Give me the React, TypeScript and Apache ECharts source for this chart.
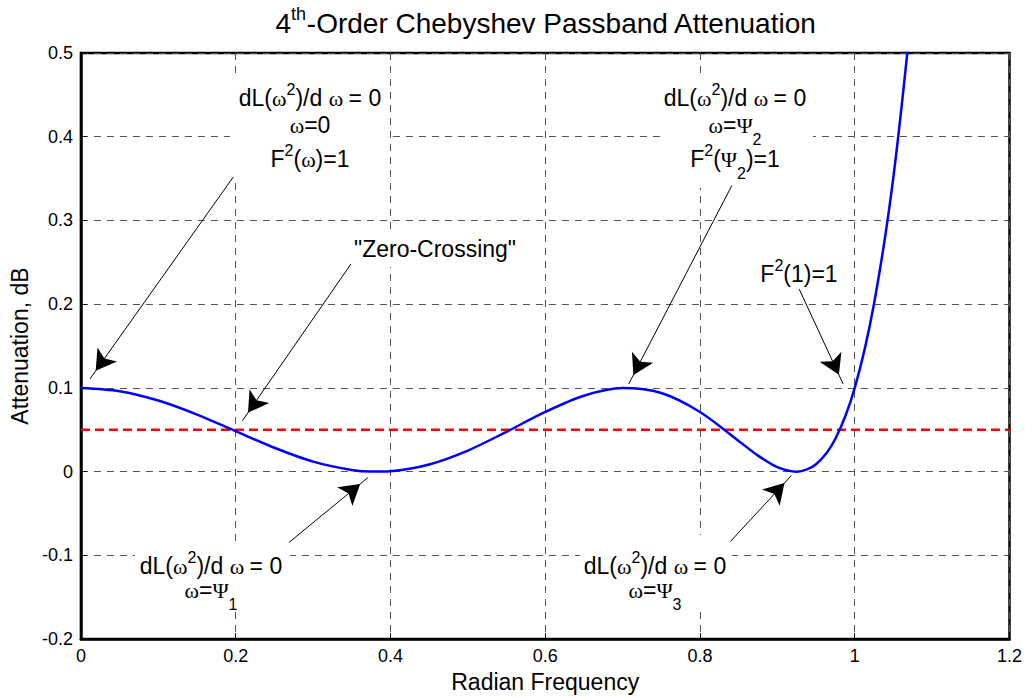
import React, { useEffect, useRef } from 'react';
import * as echarts from 'echarts';

// ---- data ----
const freq = [0, 0.05, 0.1, 0.15, 0.2, 0.25, 0.3, 0.35, 0.375, 0.4, 0.45, 0.5, 0.55, 0.6, 0.65, 0.7, 0.75, 0.8, 0.85, 0.875, 0.9, 0.925, 0.95, 0.975, 1.0, 1.025, 1.05, 1.075];
const atten = [0.1, 0.0961, 0.0849, 0.0682, 0.0483, 0.0285, 0.012, 0.002, 0.0001, 0.0006, 0.0086, 0.0252, 0.0476, 0.0713, 0.0907, 0.0998, 0.0939, 0.0713, 0.0367, 0.0191, 0.0054, 0.0, 0.0089, 0.0393, 0.1, 0.2009, 0.3521, 0.5634];
const refLevelX = [0, 1.2];
const refLevelY = [0.05, 0.05];

const xMin = 0, xMax = 1.2, xStep = 0.2;
const yMin = -0.2, yMax = 0.5, yStep = 0.1;

const arrowTails = [[0.197, 0.352], [0.349, 0.248], [0.8412, 0.3417], [0.9283, 0.2179], [0.269, -0.0845], [0.8395, -0.0833]];
const arrowHeads = [[0.0116, 0.1107], [0.2086, 0.0607], [0.708, 0.1048], [0.985, 0.1048], [0.3709, -0.0071], [0.918, -0.0048]];

const titleText = '{t|4}{ts|th}{t|-Order Chebyshev Passband Attenuation}';
const xName = 'Radian Frequency';
const yName = 'Attenuation, dB';

const derivLine = '{b|dL(}{g|ω}{sp|2}{b|)/d }{g|ω }{b|= 0}';
const annotationLines = [
  { x: 310, y: 84.5, text: derivLine },
  { x: 310, y: 111.5, text: '{g|ω}{b|=0}' },
  { x: 310, y: 145.5, text: '{b|F}{sp|2}{b|(}{g|ω}{b|)=1}' },
  { x: 735, y: 84.5, text: derivLine },
  { x: 735, y: 111.5, text: '{g|ω}{b|=}{g|Ψ}{sb|2}' },
  { x: 735, y: 145.5, text: '{b|F}{sp|2}{b|(}{g|Ψ}{sb|2}{b|)=1}' },
  { x: 435, y: 235.5, text: '{b|"Zero-Crossing"}' },
  { x: 799, y: 260.5, text: '{b|F}{sp|2}{b|(1)=1}' },
  { x: 211, y: 552.5, text: derivLine },
  { x: 211, y: 576.5, text: '{g|ω}{b|=}{g|Ψ}{sb|1}' },
  { x: 655, y: 552.5, text: derivLine },
  { x: 655, y: 576.5, text: '{g|ω}{b|=}{g|Ψ}{sb|3}' },
];
const textBoxes = [
  [230, 76, 160, 101],
  [660, 76, 153, 112],
  [350, 229, 170, 38],
  [135, 542, 155, 70],
  [580, 535, 152, 77],
];

const SANS = 'Liberation Sans';
const SERIF = 'Liberation Serif';

const annRich = {
  b: { fontSize: 23, fontFamily: SANS, fill: '#000', height: 27, lineHeight: 27, verticalAlign: 'top' },
  g: { fontSize: 22, fontFamily: SERIF, fill: '#000', height: 27, lineHeight: 27, verticalAlign: 'top' },
  sp: { fontSize: 16, fontFamily: SANS, fill: '#000', height: 10, lineHeight: 27, verticalAlign: 'top' },
  sb: { fontSize: 16, fontFamily: SANS, fill: '#000', height: 55, lineHeight: 27, verticalAlign: 'top' },
};
const titleRich = {
  t: { fontSize: 28, fontFamily: SANS, fill: '#000', height: 32, lineHeight: 32, verticalAlign: 'top' },
  ts: { fontSize: 18, fontFamily: SANS, fill: '#000', height: 14, lineHeight: 32, verticalAlign: 'top' },
};

export default function App() {
  const ref = useRef<HTMLDivElement>(null);
  useEffect(() => {
    if (!ref.current) return;
    const chart = echarts.init(ref.current, null, { renderer: 'svg' });
    const gridLine = { show: true, lineStyle: { color: '#555', width: 1, type: [7, 6] } };
    const axisCommon = {
      type: 'value' as const,
      nameLocation: 'middle' as const,
      nameTextStyle: { fontSize: 23, color: '#000', fontFamily: SANS },
      axisLine: { show: true, onZero: false, lineStyle: { color: '#000', width: 2.5 } },
      axisTick: { show: true, inside: true, length: 6, lineStyle: { color: '#000', width: 1 } },
      axisLabel: { color: '#000', fontSize: 18, fontFamily: SANS, margin: 8 },
      splitLine: gridLine,
    };
    const option: any = {
      animation: false,
      backgroundColor: '#fff',
      textStyle: { fontFamily: SANS },
      grid: { left: 80, right: 13, top: 53, bottom: 57, show: true, borderColor: '#000', borderWidth: 2.5, backgroundColor: 'transparent' },
      xAxis: { ...axisCommon, min: xMin, max: xMax, interval: xStep, name: xName, nameGap: 30 },
      yAxis: { ...axisCommon, min: yMin, max: yMax, interval: yStep, name: yName, nameGap: 46 },
      series: [
        {
          type: 'line',
          data: freq.map((f, i) => [f, atten[i]]),
          symbol: 'none',
          smooth: 0.3,
          clip: true,
          lineStyle: { color: '#0000ff', width: 2.5 },
          z: 3,
          markLine: {
            silent: true,
            animation: false,
            symbol: ['none', 'arrow'],
            symbolSize: 18,
            lineStyle: { color: '#000', width: 1, type: 'solid' },
            label: { show: false },
            emphasis: { disabled: true },
            data: arrowTails.map((t, i) => [
              { coord: t, symbol: 'none' },
              { coord: arrowHeads[i], symbol: 'arrow', symbolSize: [18, 20], symbolOffset: [0, 10] },
            ]),
          },
        },
        {
          type: 'line',
          data: refLevelX.map((x, i) => [x, refLevelY[i]]),
          symbol: 'none',
          lineStyle: { color: '#ff0000', width: 2.5, type: [9, 5] },
          z: 2,
        },
      ],
      graphic: [
        ...textBoxes.map((b) => ({
          type: 'rect', silent: true, z: 1,
          shape: { x: b[0], y: b[1], width: b[2], height: b[3] },
          style: { fill: '#fff' },
        })),
        {
          type: 'text', z: 10, x: 546, y: 7, silent: true,
          style: { text: titleText, align: 'center', verticalAlign: 'top', rich: titleRich },
        },
        ...annotationLines.map((a) => ({
          type: 'text', z: 10, x: a.x, y: a.y, silent: true,
          style: { text: a.text, align: 'center', verticalAlign: 'top', rich: annRich },
        })),
      ],
    };
    chart.setOption(option);
    return () => chart.dispose();
  }, []);
  return <div ref={ref} style={{ position: 'fixed', left: 0, top: 0, width: 1025, height: 698, background: '#fff' }} />;
}
